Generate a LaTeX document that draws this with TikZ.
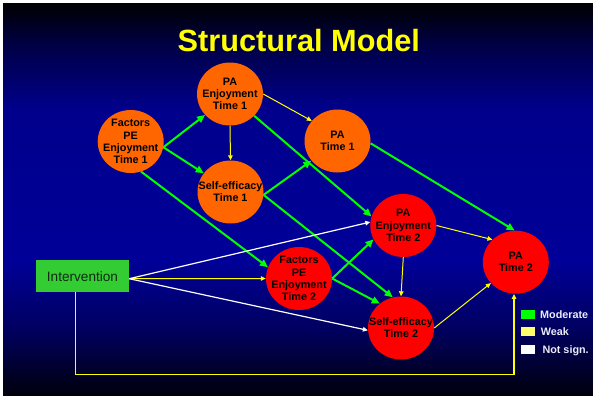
\documentclass[tikz,border=0pt]{standalone}
\usepackage{fontspec}
\setmainfont{Liberation Sans}
\usetikzlibrary{shapes.geometric,arrows.meta}
\definecolor{bgblue}{RGB}{0,0,152}
\definecolor{bgblueb}{RGB}{0,0,140}
\definecolor{bgdark}{RGB}{0,0,70}
\definecolor{bgbotb}{RGB}{0,0,95}
\definecolor{bgbot}{RGB}{0,0,12}
\definecolor{orangeT}{RGB}{255,102,0}
\definecolor{redT}{RGB}{255,0,0}
\definecolor{intgreen}{RGB}{51,204,51}
\definecolor{modgreen}{RGB}{0,255,0}
\definecolor{weakyellow}{RGB}{255,255,0}
\definecolor{legyellow}{RGB}{255,255,110}
\definecolor{legtext}{RGB}{235,235,250}
\pgfdeclareverticalshading{slidebg}{100bp}{color(0bp)=(bgbot); color(25bp)=(bgbot); color(33.3bp)=(bgbotb); color(42.2bp)=(bgblue); color(61.4bp)=(bgblueb); color(69.6bp)=(bgdark); color(75bp)=(black); color(100bp)=(black)}
\tikzset{
  varshape/.style={ellipse, minimum width=66pt, minimum height=63pt, inner sep=0pt, draw=none},
  tone/.style={varshape, fill=orangeT},
  ttwo/.style={varshape, fill=redT},
  vartext/.style={align=center, inner sep=0pt, text=black, font=\bfseries\fontsize{10.8}{12.2}\selectfont},
  modarrow/.style={draw=modgreen, line width=2pt, -{Triangle[length=8pt,width=7pt]}},
  weakarrow/.style={draw=weakyellow, line width=1pt, -{Triangle[length=5pt,width=4.5pt]}},
  nsarrow/.style={draw=white, line width=1.2pt, -{Triangle[length=5pt,width=4.5pt]}},
  legbox/.style={minimum width=14pt, minimum height=9pt, inner sep=0pt, draw=none},
  legtxt/.style={anchor=base west, inner sep=0pt, text=legtext, font=\bfseries\fontsize{10.8}{12}\selectfont},
}
\begin{document}
\begin{tikzpicture}[x=1pt,y=-1pt]
\useasboundingbox (0,0) rectangle (593,397);
\fill[white] (0,0) rectangle (593,397);
\shade[shading=slidebg] (3,3) rectangle (593,395);

% title
\node[anchor=base, inner sep=0pt, text=weakyellow, font=\bfseries\fontsize{30.7}{34}\selectfont] (title) at (298.8,51.7) {Structural Model};

% variables
\node[tone] (F1) at (130.7,141.5) {};
\node[tone] (PAE1) at (230,94) {};
\node[tone] (PAT1) at (337.5,141) {};
\node[tone] (SE1) at (230.5,192) {};
\node[ttwo] (PAE2) at (403.3,225.5) {};
\node[ttwo] (F2) at (299,278.5) {};
\node[ttwo] (SE2) at (401,328) {};
\node[ttwo] (PAT2) at (515.8,262.2) {};

\node[vartext] (F1t) at (F1) {Factors\\PE\\Enjoyment\\Time 1};
\node[vartext] (PAE1t) at (PAE1) {PA\\Enjoyment\\Time 1};
\node[vartext] (PAT1t) at (PAT1) {PA\\Time 1};
\node[vartext] (SE1t) at (SE1) {Self-efficacy\\Time 1};
\node[vartext] (PAE2t) at (PAE2) {PA\\Enjoyment\\Time 2};
\node[vartext] (F2t) at (F2) {Factors\\PE\\Enjoyment\\Time 2};
\node[vartext] (SE2t) at (SE2) {Self-efficacy\\Time 2};
\node[vartext] (PAT2t) at (PAT2) {PA\\Time 2};

% intervention
\node[fill=intgreen, minimum width=93pt, minimum height=32pt, inner sep=0pt, text={rgb,255:red,20;green,40;blue,20}, font=\fontsize{13.6}{15}\selectfont] (Int) at (82.5,276.2) {Intervention};

% moderate paths
\draw[modarrow] (F1.-10) -- (PAE1.220);
\draw[modarrow] (F1.-10) -- (SE1.145);
\draw[modarrow] (F1.-71) -- (F2.160);
\draw[modarrow] (PAE1.-42) -- (PAE2.164);
\draw[modarrow] (PAT1.-4) -- (PAT2.92);
\draw[modarrow] (SE1.-5) -- (PAT1.217);
\draw[modarrow] (SE1.-5) -- (SE2.105);
\draw[modarrow] (F2.east) -- (PAE2.205);
\draw[modarrow] (F2.east) -- (SE2.131);

% weak paths
\draw[weakarrow] (PAE1.east) -- (PAT1.142);
\draw[weakarrow] (PAE1.south) -- (SE1.north);
\draw[weakarrow] ([yshift=-2.5pt]Int.east) -- (F2.west);
\draw[weakarrow] (PAE2.east) -- (PAT2.136);
\draw[weakarrow] (PAE2.south) -- (SE2.north);
\draw[weakarrow] (SE2.east) -- (PAT2.220);
\coordinate (lowy) at (0,374.7);
\coordinate (ia) at ([xshift=-7pt]Int.south);
\coordinate (pb) at ([xshift=-1.8pt]PAT2.south);
\draw[weakarrow, line width=1.3pt] (ia) -- (ia |- lowy) -- (pb |- lowy) -- (pb);

% not significant paths
\draw[nsarrow] ([yshift=-2.5pt]Int.east) -- (PAE2.174);
\draw[nsarrow] ([yshift=-2.5pt]Int.east) -- (SE2.184);

% legend
\node[legbox, fill=modgreen] (Lm) at (528,314) {};
\node[legbox, fill=legyellow] (Lw) at (528,331.2) {};
\node[legbox, fill=white] (Ln) at (528,349.5) {};
\node[legtxt] (Lmt) at (540,318.7) {Moderate};
\node[legtxt] (Lwt) at (540.7,335.7) {Weak};
\node[legtxt] (Lnt) at (542.3,353.5) {Not sign.};
\end{tikzpicture}
\end{document}
